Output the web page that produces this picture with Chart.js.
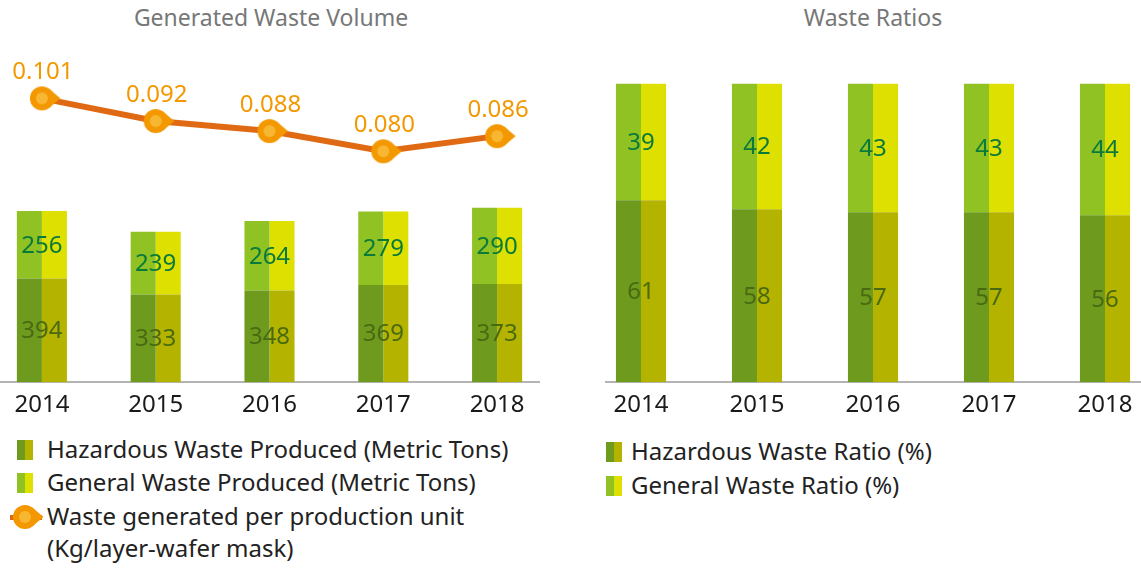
<!DOCTYPE html>
<html>
<head>
<meta charset="utf-8">
<script src="https://cdn.jsdelivr.net/npm/chart.js@4"></script>
<style>
  body { margin: 0; width: 1141px; height: 568px; overflow: hidden; background: #fff; position: relative; font-family: "Noto Sans", sans-serif; }
  .title { position: absolute; top: 1px; font-size: 23px; color: #777; text-align: center; }
  .wrap { position: absolute; top: 40px; height: 400px; overflow: hidden; }
  .wrap canvas { position: absolute; top: 0; }
  .row { position: absolute; white-space: nowrap; font-size: 24px; color: #222; line-height: 32px; }
  .sw { position: absolute; width: 8px; height: 20px; }
</style>
</head>
<body>
<div class="title" style="left:0;width:542px;">Generated Waste Volume</div>
<div class="title" style="left:605px;width:536px;">Waste Ratios</div>

<div class="wrap" style="left:0;width:540px;"><canvas id="volume" width="569" height="389" style="left:-15px"></canvas></div>
<div class="wrap" style="left:605px;width:536px;"><canvas id="ratio" width="580" height="389" style="left:-22px"></canvas></div>

<div id="legend-left"></div>
<div id="legend-right"></div>

<script>
// data
const years = ["2014", "2015", "2016", "2017", "2018"];
const hazardous = [394, 333, 348, 369, 373];
const general = [256, 239, 264, 279, 290];
const perUnit = [0.101, 0.092, 0.088, 0.080, 0.086];
const perUnitLabels = ["0.101", "0.092", "0.088", "0.080", "0.086"];
const hazardousRatio = [61, 58, 57, 57, 56];
const generalRatio = [39, 42, 43, 43, 44];

const HAZ_L = "#6e9a1e", HAZ_R = "#b3b300";
const GEN_L = "#8fc222", GEN_R = "#dde000";
const ORANGE = "#f39800", LINE = "#e06a14";
const FONT = "'Noto Sans', sans-serif";

// teardrop marker pointing right
function makeDrop() {
  const c = document.createElement("canvas");
  c.width = 40;
  c.height = 26;
  const g = c.getContext("2d");
  const cx = 20, cy = 13, r = 12, a = 0.95;
  g.fillStyle = ORANGE;
  g.beginPath();
  g.arc(cx, cy, r, 0, Math.PI * 2);
  g.fill();
  g.beginPath();
  g.moveTo(cx + r * Math.cos(a), cy - r * Math.sin(a));
  g.lineTo(cx + 18.5, cy);
  g.lineTo(cx + r * Math.cos(a), cy + r * Math.sin(a));
  g.closePath();
  g.fill();
  g.fillStyle = "#f8b733";
  g.beginPath();
  g.arc(cx, cy, 6, 0, Math.PI * 2);
  g.fill();
  return c;
}
const drop = makeDrop();

// labels centred across both halves of each bar
function barLabels(pairs) {
  return {
    id: "barLabels",
    afterDatasetsDraw(chart) {
      const ctx = chart.ctx;
      const x = chart.scales.x;
      ctx.save();
      ctx.font = "24px " + FONT;
      ctx.textAlign = "center";
      ctx.textBaseline = "middle";
      pairs.forEach(function (p) {
        const meta = chart.getDatasetMeta(p.ds);
        meta.data.forEach(function (el, i) {
          ctx.fillStyle = p.color;
          ctx.fillText(String(p.values[i]), x.getPixelForValue(i), (el.y + el.base) / 2 + 1);
        });
      });
      ctx.restore();
    },
  };
}

const lineLabels = {
  id: "lineLabels",
  afterDatasetsDraw(chart) {
    const ctx = chart.ctx;
    const meta = chart.getDatasetMeta(4);
    ctx.save();
    ctx.font = "24px " + FONT;
    ctx.textAlign = "center";
    ctx.textBaseline = "middle";
    ctx.fillStyle = ORANGE;
    meta.data.forEach(function (pt, i) {
      ctx.fillText(perUnitLabels[i], pt.x + 1, pt.y - 26);
    });
    ctx.restore();
  },
};

function xAxis() {
  return {
    stacked: true,
    grid: { display: false, drawTicks: false },
    border: { display: true, color: "#b4b4b4", width: 2 },
    ticks: { color: "#1a1a1a", font: { family: FONT, size: 24 }, padding: 9 },
  };
}

function half(data, color, stack, pct) {
  return {
    type: "bar", data: data, backgroundColor: color, stack: stack,
    categoryPercentage: pct, barPercentage: 1, borderWidth: 0, yAxisID: "y",
  };
}

new Chart(document.getElementById("volume"), {
  data: {
    labels: years,
    datasets: [
      half(hazardous, HAZ_L, "L", 0.44),
      half(hazardous, HAZ_R, "R", 0.44),
      half(general, GEN_L, "L", 0.44),
      half(general, GEN_R, "R", 0.44),
      {
        type: "line",
        data: perUnit,
        yAxisID: "y1",
        borderColor: LINE,
        borderWidth: 6,
        pointStyle: drop,
        clip: false,
        order: -1,
      },
    ],
  },
  options: {
    responsive: false,
    animation: false,
    layout: { autoPadding: false, padding: { top: 20 } },
    plugins: { legend: { display: false }, tooltip: { enabled: false } },
    scales: {
      x: xAxis(),
      y: { display: false, stacked: true, min: 0, max: 1224 },
      y1: { display: false, min: -0.0116, max: 0.1162 },
    },
  },
  plugins: [
    barLabels([
      { ds: 0, values: hazardous, color: "#4a6a12" },
      { ds: 2, values: general, color: "#0a7a3a" },
    ]),
    lineLabels,
  ],
});

new Chart(document.getElementById("ratio"), {
  data: {
    labels: years,
    datasets: [
      half(hazardousRatio, HAZ_L, "L", 0.432),
      half(hazardousRatio, HAZ_R, "R", 0.432),
      half(generalRatio, GEN_L, "L", 0.432),
      half(generalRatio, GEN_R, "R", 0.432),
    ],
  },
  options: {
    responsive: false,
    animation: false,
    layout: { autoPadding: false, padding: { top: 20 } },
    plugins: { legend: { display: false }, tooltip: { enabled: false } },
    scales: {
      x: xAxis(),
      y: { display: false, stacked: true, min: 0, max: 108 },
    },
  },
  plugins: [
    barLabels([
      { ds: 0, values: hazardousRatio, color: "#4a6a12" },
      { ds: 2, values: generalRatio, color: "#0a7a3a" },
    ]),
  ],
});

// html legends
function swatch(left, top, c1, c2) {
  return '<div class="sw" style="left:' + left + "px;top:" + top + "px;background:" + c1 + '"></div>' +
    '<div class="sw" style="left:' + (left + 8) + "px;top:" + top + "px;background:" + c2 + '"></div>';
}
function row(left, top, text) {
  return '<div class="row" style="left:' + left + "px;top:" + top + 'px">' + text + "</div>";
}

let html = "";
html += swatch(17, 440, HAZ_L, HAZ_R) + row(47, 433, "Hazardous Waste Produced (Metric Tons)");
html += swatch(17, 473, GEN_L, GEN_R) + row(47, 466, "General Waste Produced (Metric Tons)");
html += '<canvas id="lg-line" width="36" height="26" style="position:absolute;left:8px;top:504px"></canvas>';
html += row(47, 500, "Waste generated per production unit");
html += row(47, 532, "(Kg/layer-wafer mask)");
document.getElementById("legend-left").innerHTML = html;

const lg = document.getElementById("lg-line").getContext("2d");
lg.fillStyle = LINE;
lg.fillRect(2, 11, 32, 5);
lg.drawImage(drop, -3, 0);

let html2 = "";
html2 += swatch(606, 442, HAZ_L, HAZ_R) + row(631, 435, "Hazardous Waste Ratio (%)");
html2 += swatch(606, 476, GEN_L, GEN_R) + row(631, 469, "General Waste Ratio (%)");
document.getElementById("legend-right").innerHTML = html2;
</script>
</body>
</html>
